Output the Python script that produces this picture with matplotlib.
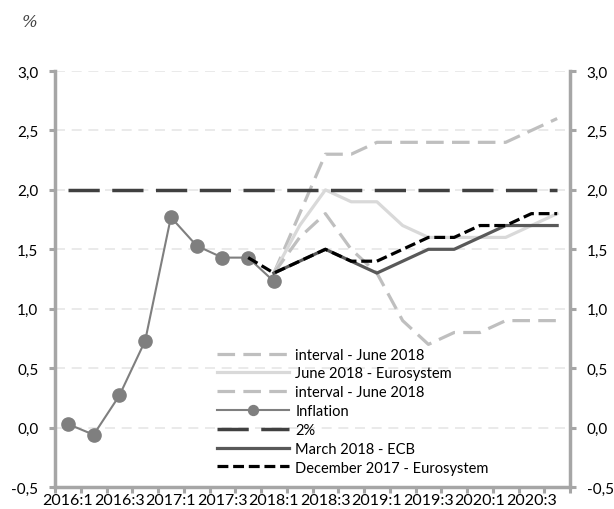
import numpy as np
import matplotlib.pyplot as plt
from matplotlib.ticker import FixedLocator, FuncFormatter

# Data
quarters = ["2016:1", "2016:2", "2016:3", "2016:4",
            "2017:1", "2017:2", "2017:3", "2017:4",
            "2018:1", "2018:2", "2018:3", "2018:4",
            "2019:1", "2019:2", "2019:3", "2019:4",
            "2020:1", "2020:2", "2020:3", "2020:4"]

inflation = [0.03, -0.06, 0.27, 0.73, 1.77, 1.53, 1.43, 1.43, 1.23]
target = [2.0] * 20

# forecasts starting 2018:1
upper_jun18 = [1.3, 1.8, 2.3, 2.3, 2.4, 2.4, 2.4, 2.4, 2.4, 2.4, 2.5, 2.6]
eurosys_jun18 = [1.3, 1.7, 2.0, 1.9, 1.9, 1.7, 1.6, 1.6, 1.6, 1.6, 1.7, 1.8]
lower_jun18 = [1.3, 1.6, 1.8, 1.5, 1.3, 0.9, 0.7, 0.8, 0.8, 0.9, 0.9, 0.9]
ecb_mar18 = [1.3, 1.4, 1.5, 1.4, 1.3, 1.4, 1.5, 1.5, 1.6, 1.7, 1.7, 1.7]
# December 2017 starts at 2017:4
eurosys_dec17 = [1.43, 1.3, 1.4, 1.5, 1.4, 1.4, 1.5, 1.6, 1.6, 1.7, 1.7, 1.8, 1.8]

plt.rcParams["font.family"] = ["Lato", "DejaVu Sans"]

fig = plt.figure(figsize=(6.14, 5.10), dpi=100)
ax = fig.add_axes([0.0896, 0.0431, 0.8388, 0.8157])

x_all = np.arange(len(quarters))
x_fc = x_all[8:]
x_dec = x_all[7:]

spine_col = "#a6a6a6"

ax.plot(x_fc, upper_jun18, color="#bfbfbf", lw=2.3, dashes=(5.5, 2.6),
        label="interval - June 2018", zorder=2)
ax.plot(x_fc, eurosys_jun18, color="#d9d9d9", lw=2.3,
        label="June 2018 - Eurosystem", zorder=2)
ax.plot(x_fc, lower_jun18, color="#bfbfbf", lw=2.3, dashes=(5.5, 2.6),
        label="interval - June 2018", zorder=2)
ax.plot(x_all[:len(inflation)], inflation, color="#7f7f7f", lw=1.5,
        marker="o", markersize=9.5, label="Inflation", zorder=3)
ax.plot(x_all, target, color="#404040", lw=2.5, dashes=(9, 3.6),
        label="2%", zorder=4)
ax.plot(x_fc, ecb_mar18, color="#595959", lw=2.3,
        label="March 2018 - ECB", zorder=5)
ax.plot(x_dec, eurosys_dec17, color="black", lw=2.3, dashes=(3.4, 1.5),
        label="December 2017 - Eurosystem", zorder=6)

ax.set_xlim(-0.5, len(quarters) - 0.5)
ax.set_ylim(-0.5, 3.0)

# grid
for yv in np.arange(0.0, 3.01, 0.5):
    ax.axhline(yv, color="#e6e6e6", lw=1.2, dashes=(6, 4), zorder=1)

# spines
for s in ["left", "right", "bottom"]:
    ax.spines[s].set_color(spine_col)
    ax.spines[s].set_linewidth(2.5)
ax.spines["top"].set_visible(False)

# x ticks: labels every second quarter, marks between categories
ax.xaxis.set_major_locator(FixedLocator(x_all[::2]))
ax.set_xticklabels(quarters[::2])
ax.xaxis.set_minor_locator(FixedLocator(np.arange(-0.5, len(quarters), 1.0)))
ax.tick_params(axis="x", which="major", length=0, pad=4.5, labelsize=11.5)
ax.tick_params(axis="x", which="minor", length=4, width=2.2, color=spine_col,
               direction="out")

# y ticks on both sides
ax.set_yticks(np.arange(-0.5, 3.01, 0.5))
ax.yaxis.set_major_formatter(FuncFormatter(lambda v, p: f"{v:.1f}".replace(".", ",")))
ax.tick_params(axis="y", which="major", length=4, width=2.2, color=spine_col,
               direction="out", labelsize=11, pad=8,
               left=True, right=True, labelleft=True, labelright=True)

ax.text(-0.05, 1.12, "%", transform=ax.transAxes, fontsize=12,
        style="italic", family=["DejaVu Serif"], color="#404040",
        ha="center", va="center")

leg = ax.legend(loc="lower left", bbox_to_anchor=(0.315, 0.03), frameon=False,
                fontsize=10.5, handlelength=4.9, handletextpad=0.45,
                labelspacing=0.33, borderpad=0, borderaxespad=0,
                markerscale=0.75)

fig.savefig("out.png", dpi=100)
